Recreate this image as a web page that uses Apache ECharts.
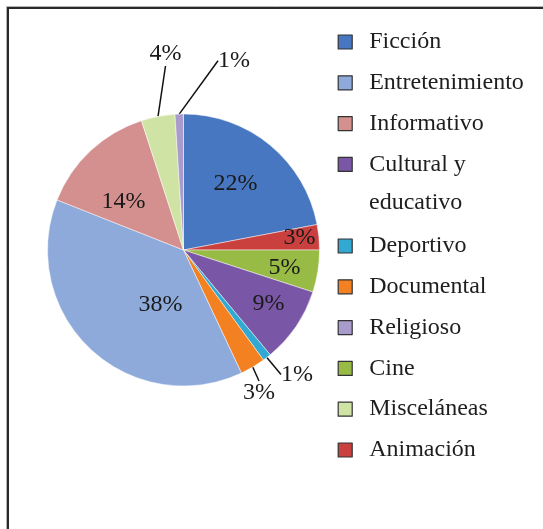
<!DOCTYPE html>
<html>
<head>
<meta charset="utf-8">
<script src="https://cdn.jsdelivr.net/npm/echarts@6/dist/echarts.min.js"></script>
<style>html,body{margin:0;padding:0;background:#fff}#c{width:543px;height:529px}</style>
</head>
<body>
<div id="c"></div>
<script>
// Slices in clockwise order from 12 o'clock
const categories = ['Ficción','Animación','Cine','Cultural y educativo','Deportivo','Documental','Entretenimiento','Informativo','Misceláneas','Religioso'];
const values = [22, 3, 5, 9, 1, 3, 38, 14, 4, 1];
// Legend order
const legendTop = ['Ficción','Entretenimiento','Informativo','Cultural y educativo'];
const legendBottom = ['Deportivo','Documental','Religioso','Cine','Misceláneas','Animación'];

const colors = {
  'Ficción':'#4777C0','Animación':'#C9403F','Cine':'#98BB45','Cultural y educativo':'#7A57A6',
  'Deportivo':'#32A9D2','Documental':'#F38121','Entretenimiento':'#8EAADB','Informativo':'#D4908F',
  'Misceláneas':'#CFE4A4','Religioso':'#A99BCB'
};
const CX = 183.5, CY = 250, R = 136;
const outsideLabels = {'Deportivo':1,'Documental':1,'Misceláneas':1,'Religioso':1};
// label placement relative to pie centre (pixels)
const labelOffsets = [[52,-66],[116,-12],[101,17.5],[85,54],[113.5,124.5],[75.5,143],[-23,54.7],[-60,-48.6],[-18,-196],[50.5,-189.3]];

const FONT = 'Liberation Serif';
const data = categories.map((n, i) => {
  const out = !!outsideLabels[n];
  return {
    name: n, value: values[i],
    itemStyle: {color: colors[n]},
    label: {position: out ? 'outside' : 'inside'},
    labelLine: {show: out}
  };
});

const legendCommon = {
  orient: 'vertical', left: 337.6, padding: 0, itemGap: 0,
  itemWidth: 14, itemHeight: 14, icon: 'rect',
  itemStyle: {borderColor: '#333', borderWidth: 1.2},
  textStyle: {fontFamily: FONT, fontSize: 24, color: '#1e1e1e', lineHeight: 40.8, padding: [0,0,0,12]},
  selectedMode: false
};

const chart = echarts.init(document.getElementById('c'), null, {renderer: 'canvas'});
chart.setOption({
  backgroundColor: '#fff',
  animation: false,
  legend: [
    Object.assign({}, legendCommon, {top: 21.6, data: legendTop,
      formatter: n => n === 'Cultural y educativo' ? 'Cultural y' : n}),
    Object.assign({}, legendCommon, {top: 225.6, data: legendBottom})
  ],
  graphic: [
    {type: 'rect', shape: {x: 6.5, y: 6.5, width: 600, height: 600}, style: {fill: 'none', stroke: '#b5b5b5', lineWidth: 1}, silent: true},
    {type: 'rect', shape: {x: 8, y: 8, width: 600, height: 600}, style: {fill: 'none', stroke: '#2a2a2a', lineWidth: 2}, silent: true},
    {type: 'text', left: 369, top: 205 - 14, style: {text: 'educativo', font: '24px "Liberation Serif"', fill: '#1e1e1e'}, silent: true}
  ],
  series: [{
    type: 'pie',
    center: [CX, CY],
    radius: R,
    startAngle: 90,
    clockwise: true,
    avoidLabelOverlap: false,
    emphasis: {disabled: true},
    itemStyle: {borderColor: 'rgba(255,255,255,0.6)', borderWidth: 0.8},
    label: {show: true, formatter: p => p.value + '%', fontFamily: FONT, fontSize: 24, color: '#1a1a1a'},
    labelLine: {length: 15, length2: 0, lineStyle: {color: '#111', width: 1.5}},
    labelLayout: function (p) {
      const o = labelOffsets[p.dataIndex];
      return {x: CX + o[0], y: CY + o[1], align: 'center', verticalAlign: 'middle'};
    },
    data: data
  }]
});
</script>
</body>
</html>
